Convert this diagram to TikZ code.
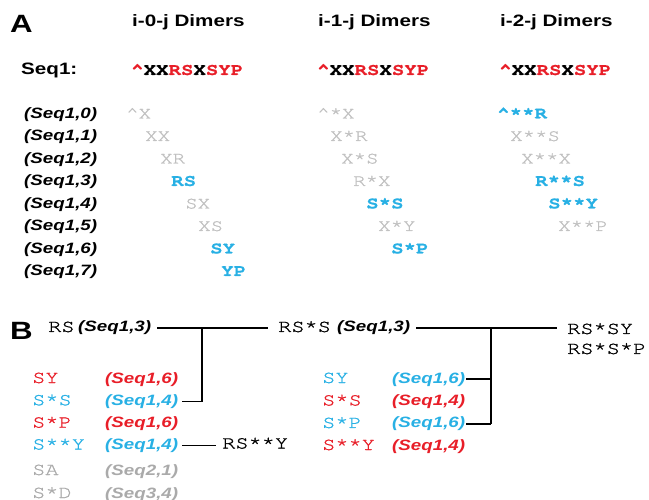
\documentclass[tikz,border=0pt]{standalone}
\usepackage{fontspec}
\setmainfont{Liberation Sans}[FakeStretch=1.25]
\setmonofont{TeX Gyre Cursor}[FakeStretch=1.22,UprightFeatures={FakeBold=1.2},BoldFeatures={FakeBold=0.6}]
\usetikzlibrary{calc}
\definecolor{hitred}{RGB}{232,30,40}
\definecolor{hitcyan}{RGB}{40,176,228}
\definecolor{missgrey}{RGB}{192,192,192}
\definecolor{lowgrey}{RGB}{170,170,170}
\newcommand{\caret}{\textasciicircum}
\begin{document}
\begin{tikzpicture}[x=1pt,y=-1pt,
  every node/.style={inner sep=0pt,anchor=base west},
  panel/.style={font=\fontsize{25}{28}\selectfont\bfseries},
  head/.style={font=\fontsize{16.5}{18}\selectfont\bfseries},
  lab/.style={font=\fontsize{15}{17}\selectfont\bfseries\itshape},
  sq/.style={font=\fontsize{17}{18}\selectfont\ttfamily},
  sqb/.style={font=\fontsize{17}{18}\selectfont\ttfamily\bfseries},
  bsq/.style={font=\fontsize{18}{19}\selectfont\ttfamily},
  miss/.style={text=missgrey},
  hitc/.style={text=hitcyan},
  hitr/.style={text=hitred},
  conn/.style={draw=black,line width=1.4pt}]
\useasboundingbox (0,0) rectangle (649,500);
\clip (0,0) rectangle (649,500);

% ---------------- Panel A ----------------
\node[panel] (A) at (10,33) {A};
\node[head] (h0) at (132,27) {i-0-j Dimers};
\node[head] (h1) at (318,27) {i-1-j Dimers};
\node[head] (h2) at (500,27) {i-2-j Dimers};

\node[head] (seq) at (21,74.5) {Seq1:};
\node[sqb] (s0) at (131,75) {\textcolor{hitred}{\caret}XX\textcolor{hitred}{RS}X\textcolor{hitred}{SYP}};
\node[sqb] (s1) at (317,75) {\textcolor{hitred}{\caret}XX\textcolor{hitred}{RS}X\textcolor{hitred}{SYP}};
\node[sqb] (s2) at (499,75) {\textcolor{hitred}{\caret}XX\textcolor{hitred}{RS}X\textcolor{hitred}{SYP}};

% row labels
\node[lab] (p0) at (24,118.5) {(Seq1,0)};
\node[lab] (p1) at (24,141)   {(Seq1,1)};
\node[lab] (p2) at (24,163.5) {(Seq1,2)};
\node[lab] (p3) at (24,186)   {(Seq1,3)};
\node[lab] (p4) at (24,208.5) {(Seq1,4)};
\node[lab] (p5) at (24,231)   {(Seq1,5)};
\node[lab] (p6) at (24,253.5) {(Seq1,6)};
\node[lab] (p7) at (24,276)   {(Seq1,7)};

% i-0-j dimers
\node[sq,miss]  (a0) at (126,118.5) {\caret X};
\node[sq,miss]  (a1) at (145,141)   {XX};
\node[sq,miss]  (a2) at (160,163.5) {XR};
\node[sqb,hitc] (a3) at (171,186)   {RS};
\node[sq,miss]  (a4) at (185,208.5) {SX};
\node[sq,miss]  (a5) at (198,231)   {XS};
\node[sqb,hitc] (a6) at (210,253.5) {SY};
\node[sqb,hitc] (a7) at (221,276)   {YP};

% i-1-j dimers
\node[sq,miss]  (b0) at (317,118.5) {\caret*X};
\node[sq,miss]  (b1) at (330,141)   {X*R};
\node[sq,miss]  (b2) at (341,163.5) {X*S};
\node[sq,miss]  (b3) at (353,186)   {R*X};
\node[sqb,hitc] (b4) at (366,208.5) {S*S};
\node[sq,miss]  (b5) at (378,231)   {X*Y};
\node[sqb,hitc] (b6) at (391,253.5) {S*P};

% i-2-j dimers
\node[sqb,hitc] (c0) at (497,118.5) {\caret**R};
\node[sq,miss]  (c1) at (510,141)   {X**S};
\node[sq,miss]  (c2) at (521,163.5) {X**X};
\node[sqb,hitc] (c3) at (535,186)   {R**S};
\node[sqb,hitc] (c4) at (548,208.5) {S**Y};
\node[sq,miss]  (c5) at (558,231)   {X**P};

% ---------------- Panel B ----------------
\node[panel] (B) at (10,340) {B};
\node[bsq] (rs)   at (48,332)  {RS};
\node[lab] (rsl)  at (78,332)  {(Seq1,3)};
\node[bsq] (rss)  at (278,332) {RS*S};
\node[lab] (rssl) at (337,332) {(Seq1,3)};
\node[bsq] (out1) at (567,334) {RS*SY};
\node[bsq] (out2) at (567,354) {RS*S*P};

% extensions of RS
\node[bsq,hitr] (la1) at (32,383)   {SY};
\node[lab,hitr] (ll1) at (105,383)  {(Seq1,6)};
\node[bsq,hitc] (la2) at (32,405.3) {S*S};
\node[lab,hitc] (ll2) at (105,405.3){(Seq1,4)};
\node[bsq,hitr] (la3) at (32,427.6) {S*P};
\node[lab,hitr] (ll3) at (105,427.6){(Seq1,6)};
\node[bsq,hitc] (la4) at (32,449.5) {S**Y};
\node[lab,hitc] (ll4) at (105,449.5){(Seq1,4)};
\node[bsq,text=lowgrey] (la5) at (32,475) {SA};
\node[lab,text=lowgrey] (ll5) at (105,475) {(Seq2,1)};
\node[bsq,text=lowgrey] (la6) at (32,498) {S*D};
\node[lab,text=lowgrey] (ll6) at (105,498) {(Seq3,4)};
\node[bsq] (rsyy) at (222,448.5) {RS**Y};

% extensions of RS*S
\node[bsq,hitc] (ra1) at (322,383)   {SY};
\node[lab,hitc] (rl1) at (392,383)   {(Seq1,6)};
\node[bsq,hitr] (ra2) at (322,405.5) {S*S};
\node[lab,hitr] (rl2) at (392,405.5) {(Seq1,4)};
\node[bsq,hitc] (ra3) at (322,428)   {S*P};
\node[lab,hitc] (rl3) at (392,428)   {(Seq1,6)};
\node[bsq,hitr] (ra4) at (322,450)   {S**Y};
\node[lab,hitr] (rl4) at (392,450)   {(Seq1,4)};

% connectors
\coordinate (j1x) at (202,0);
\coordinate (j2x) at (491,0);
\draw[conn] ($(rsl.east)+(6,0)$) -- ($(rsl.east -| rss.west)+(-10,0)$);
\draw[conn] (rsl.east -| j1x) |- ($(ll2.east)+(4,0)$);
\draw[conn] ($(ll4.east)+(4,0)$) -- ($(ll4.east -| rsyy.west)+(-6,0)$);
\draw[conn] ($(rssl.east)+(6,0)$) -- ($(rssl.east -| out1.west)+(-10,0)$);
\draw[conn] (rssl.east -| j2x) -- (rl3.east -| j2x);
\draw[conn] ($(rl1.east)+(1,0)$) -- (rl1.east -| j2x);
\draw[conn] ($(rl3.east)+(1,0)$) -- (rl3.east -| j2x);
\end{tikzpicture}
\end{document}
